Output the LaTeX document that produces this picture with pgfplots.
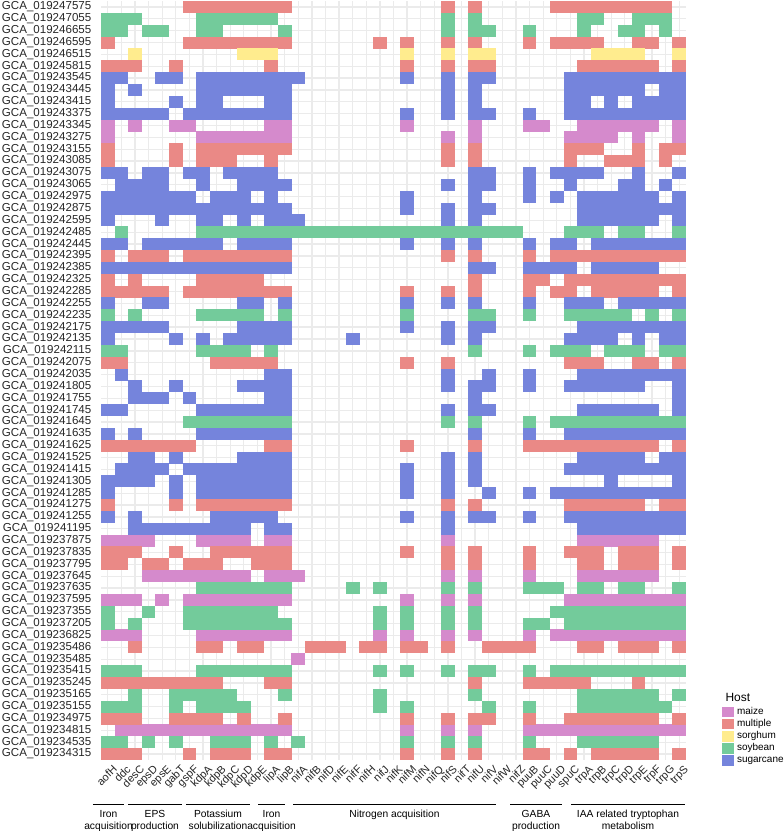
\documentclass[border=0pt]{standalone}
\usepackage{fontspec}
\setmainfont{Liberation Sans}
\usepackage{pgfplots}
\pgfplotsset{compat=1.18}
\definecolor{maize}{HTML}{D58ACC}
\definecolor{multiple}{HTML}{EA8986}
\definecolor{sorghum}{HTML}{FFEC8E}
\definecolor{soybean}{HTML}{73CB9B}
\definecolor{sugarcane}{HTML}{7584DC}
\definecolor{gridgray}{HTML}{EBEBEB}
\pgfdeclareplotmark{cell}{\pgfpathrectangle{\pgfpoint{-6.85bp}{-6bp}}{\pgfpoint{13.7bp}{12bp}}\pgfusepathqfill}
\newcommand{\g}[1]{GCA\_0192#1}
\begin{document}
\begin{tikzpicture}
\begin{axis}[
  scale only axis, width=585bp, height=759bp,
  xmin=0.5, xmax=43.5, ymin=0.5, ymax=64.5, y dir=reverse,
  xtick={1,...,43}, ytick={1,...,64},
  xticklabels={aofH,ddc,desC,epsD,epsE,gabT,gspF,kdpA,kdpB,kdpC,kdpD,kdpE,lipA,lipB,nifA,nifB,nifD,nifE,nifF,nifH,nifJ,nifK,nifM,nifN,nifQ,nifS,nifT,nifU,nifV,nifW,nifZ,puuB,puuC,puuD,spuC,trpA,trpB,trpC,trpD,trpE,trpF,trpG,trpS},
  yticklabels={\g{47575},\g{47055},\g{46655},\g{46595},\g{46515},\g{45815},\g{43545},\g{43445},\g{43415},\g{43375},\g{43345},\g{43275},\g{43155},\g{43085},\g{43075},\g{43065},\g{42975},\g{42875},\g{42595},\g{42485},\g{42445},\g{42395},\g{42385},\g{42325},\g{42285},\g{42255},\g{42235},\g{42175},\g{42135},\g{42115},\g{42075},\g{42035},\g{41805},\g{41755},\g{41745},\g{41645},\g{41635},\g{41625},\g{41525},\g{41415},\g{41305},\g{41285},\g{41275},\g{41255},\g{41195},\g{37875},\g{37835},\g{37795},\g{37645},\g{37635},\g{37595},\g{37355},\g{37205},\g{36825},\g{35486},\g{35485},\g{35415},\g{35245},\g{35165},\g{35155},\g{34975},\g{34815},\g{34535},\g{34315}},
  x tick label style={rotate=45, anchor=north east, inner sep=0pt, font=\fontsize{11}{11}\selectfont, text=black!85, yshift=-6bp},
  y tick label style={anchor=east, inner sep=0pt, font=\fontsize{11.6}{12}\selectfont, text=black!85, xshift=-9.5bp},
  major tick length=0pt, tick style={draw=none}, axis line style={draw=none},
  grid=major, grid style={color=gridgray, line width=1.3bp},
  legend style={at={(1.0615,0.070)}, anchor=north west, draw=none, fill=none, inner sep=0pt, row sep=2.4bp, column sep=4bp, font=\fontsize{10}{12}\selectfont, nodes={inner sep=0pt, text height=7.2bp, text depth=2.1bp}},
  legend image code/.code={\fill (0bp,-4.65bp) rectangle (10.5bp,4.65bp);},
  legend cell align=left,
]
\addplot[only marks, mark=cell, color=maize] coordinates {
(1,11)(3,11)(6,11)(7,11)(13,11)(14,11)(23,11)(28,11)(32,11)(33,11)(36,11)(37,11)(38,11)(39,11)(40,11)(41,11)(43,11)
(1,12)(8,12)(9,12)(10,12)(11,12)(12,12)(13,12)(14,12)(26,12)(28,12)(35,12)(36,12)(37,12)(38,12)(40,12)(43,12)
(1,46)(2,46)(3,46)(4,46)(8,46)(9,46)(10,46)(11,46)(13,46)(14,46)(26,46)(36,46)(37,46)(38,46)(39,46)(40,46)(41,46)
(4,49)(5,49)(6,49)(7,49)(8,49)(9,49)(10,49)(11,49)(13,49)(14,49)(15,49)(26,49)(28,49)(32,49)(36,49)(37,49)(38,49)(39,49)(40,49)(41,49)
(1,51)(2,51)(3,51)(5,51)(7,51)(8,51)(9,51)(10,51)(11,51)(12,51)(13,51)(14,51)(23,51)(26,51)(28,51)(35,51)(36,51)(37,51)(38,51)(39,51)(40,51)(41,51)(42,51)(43,51)
(1,54)(2,54)(3,54)(8,54)(9,54)(10,54)(11,54)(12,54)(13,54)(14,54)(21,54)(23,54)(26,54)(28,54)(32,54)(34,54)(35,54)(36,54)(37,54)(38,54)(39,54)(40,54)(41,54)(42,54)(43,54)
(15,56)
(2,62)(3,62)(4,62)(5,62)(6,62)(7,62)(8,62)(9,62)(10,62)(11,62)(12,62)(13,62)(14,62)(23,62)(26,62)(28,62)(32,62)(33,62)(34,62)(35,62)(36,62)(37,62)(38,62)(39,62)(40,62)(41,62)(42,62)(43,62)
};
\addlegendentry{maize}
\addplot[only marks, mark=cell, color=multiple] coordinates {
(7,1)(8,1)(9,1)(10,1)(11,1)(12,1)(13,1)(14,1)(26,1)(28,1)(34,1)(35,1)(36,1)(37,1)(38,1)(39,1)(40,1)(41,1)(42,1)
(1,4)(7,4)(8,4)(9,4)(10,4)(11,4)(12,4)(13,4)(14,4)(21,4)(23,4)(26,4)(28,4)(32,4)(34,4)(35,4)(36,4)(37,4)(40,4)(41,4)(43,4)
(1,6)(2,6)(3,6)(6,6)(13,6)(23,6)(26,6)(28,6)(29,6)(36,6)(37,6)(38,6)(39,6)(40,6)(41,6)(43,6)
(1,13)(6,13)(8,13)(9,13)(10,13)(11,13)(12,13)(13,13)(14,13)(26,13)(28,13)(35,13)(36,13)(37,13)(40,13)(42,13)(43,13)
(1,14)(6,14)(8,14)(9,14)(10,14)(13,14)(26,14)(28,14)(35,14)(38,14)(39,14)(40,14)(42,14)
(1,22)(3,22)(4,22)(5,22)(7,22)(8,22)(9,22)(10,22)(11,22)(12,22)(13,22)(14,22)(26,22)(28,22)(32,22)(34,22)(35,22)(36,22)(37,22)(38,22)(39,22)(40,22)(41,22)(42,22)(43,22)
(1,24)(3,24)(8,24)(9,24)(10,24)(11,24)(12,24)(28,24)(32,24)(33,24)(35,24)(36,24)(37,24)(38,24)(39,24)(40,24)(41,24)(42,24)(43,24)
(1,25)(2,25)(3,25)(4,25)(5,25)(7,25)(8,25)(9,25)(10,25)(11,25)(12,25)(13,25)(14,25)(23,25)(26,25)(28,25)(32,25)(34,25)(35,25)(37,25)(38,25)(39,25)(40,25)(41,25)(43,25)
(1,31)(2,31)(9,31)(10,31)(11,31)(12,31)(13,31)(23,31)(26,31)(35,31)(36,31)(37,31)(40,31)(41,31)(43,31)
(1,38)(2,38)(3,38)(4,38)(5,38)(6,38)(7,38)(13,38)(14,38)(23,38)(28,38)(32,38)(33,38)(34,38)(35,38)(36,38)(37,38)(38,38)(39,38)(40,38)(41,38)(43,38)
(1,43)(6,43)(8,43)(9,43)(10,43)(11,43)(12,43)(13,43)(14,43)(26,43)(28,43)(35,43)(36,43)(37,43)(38,43)(39,43)(40,43)(42,43)(43,43)
(1,47)(2,47)(3,47)(6,47)(9,47)(10,47)(11,47)(12,47)(13,47)(14,47)(23,47)(26,47)(28,47)(32,47)(35,47)(36,47)(37,47)(39,47)(40,47)(41,47)(43,47)
(1,48)(2,48)(4,48)(5,48)(7,48)(8,48)(9,48)(12,48)(13,48)(14,48)(26,48)(28,48)(32,48)(36,48)(37,48)(39,48)(40,48)(41,48)(43,48)
(3,55)(8,55)(9,55)(11,55)(12,55)(16,55)(17,55)(18,55)(20,55)(21,55)(23,55)(24,55)(26,55)(29,55)(30,55)(31,55)(32,55)(36,55)(37,55)(39,55)(40,55)(41,55)(43,55)
(1,58)(2,58)(3,58)(4,58)(5,58)(6,58)(7,58)(8,58)(9,58)(13,58)(14,58)(28,58)(32,58)(33,58)(34,58)(35,58)(36,58)(40,58)
(1,61)(2,61)(3,61)(6,61)(7,61)(8,61)(9,61)(11,61)(14,61)(23,61)(26,61)(28,61)(29,61)(32,61)(35,61)(36,61)(37,61)(38,61)(39,61)(40,61)(41,61)(43,61)
(1,64)(2,64)(3,64)(7,64)(9,64)(10,64)(11,64)(13,64)(14,64)(23,64)(26,64)(28,64)(32,64)(33,64)(35,64)(37,64)(38,64)(39,64)(40,64)(41,64)(43,64)
};
\addlegendentry{multiple}
\addplot[only marks, mark=cell, color=sorghum] coordinates {
(3,5)(11,5)(12,5)(13,5)(23,5)(26,5)(28,5)(29,5)(37,5)(38,5)(39,5)(40,5)(43,5)
};
\addlegendentry{sorghum}
\addplot[only marks, mark=cell, color=soybean] coordinates {
(1,2)(2,2)(3,2)(8,2)(9,2)(10,2)(11,2)(12,2)(13,2)(26,2)(28,2)(36,2)(37,2)(40,2)(41,2)(42,2)
(1,3)(2,3)(4,3)(5,3)(8,3)(9,3)(14,3)(26,3)(28,3)(29,3)(32,3)(36,3)(39,3)(40,3)(42,3)
(2,20)(8,20)(9,20)(10,20)(11,20)(12,20)(13,20)(14,20)(15,20)(16,20)(17,20)(18,20)(19,20)(20,20)(21,20)(22,20)(23,20)(24,20)(25,20)(26,20)(27,20)(28,20)(29,20)(30,20)(31,20)(35,20)(36,20)(37,20)(39,20)(40,20)(43,20)
(1,27)(3,27)(8,27)(9,27)(10,27)(11,27)(12,27)(14,27)(23,27)(28,27)(29,27)(32,27)(35,27)(36,27)(37,27)(38,27)(39,27)(41,27)(43,27)
(1,30)(2,30)(8,30)(9,30)(10,30)(11,30)(13,30)(28,30)(32,30)(34,30)(35,30)(36,30)(38,30)(39,30)(40,30)(42,30)(43,30)
(7,36)(8,36)(9,36)(10,36)(11,36)(12,36)(13,36)(14,36)(26,36)(28,36)(32,36)(34,36)(35,36)(36,36)(37,36)(38,36)(39,36)(40,36)(41,36)(42,36)(43,36)
(8,50)(9,50)(10,50)(11,50)(12,50)(13,50)(14,50)(19,50)(21,50)(26,50)(28,50)(32,50)(33,50)(34,50)(36,50)(37,50)(39,50)(40,50)(43,50)
(1,52)(4,52)(7,52)(8,52)(9,52)(10,52)(11,52)(12,52)(13,52)(21,52)(23,52)(26,52)(28,52)(34,52)(35,52)(36,52)(37,52)(38,52)(39,52)(40,52)(41,52)(42,52)(43,52)
(1,53)(3,53)(7,53)(8,53)(9,53)(10,53)(11,53)(12,53)(13,53)(14,53)(21,53)(23,53)(26,53)(28,53)(32,53)(33,53)(35,53)(36,53)(37,53)(38,53)(39,53)(40,53)(41,53)(42,53)(43,53)
(1,57)(2,57)(3,57)(8,57)(9,57)(10,57)(11,57)(12,57)(13,57)(14,57)(21,57)(23,57)(26,57)(28,57)(29,57)(32,57)(34,57)(35,57)(36,57)(37,57)(38,57)(39,57)(40,57)(41,57)(42,57)(43,57)
(3,59)(6,59)(7,59)(8,59)(9,59)(10,59)(14,59)(21,59)(28,59)(36,59)(37,59)(38,59)(39,59)(40,59)(41,59)(43,59)
(1,60)(2,60)(3,60)(6,60)(8,60)(9,60)(10,60)(11,60)(21,60)(23,60)(29,60)(32,60)(36,60)(37,60)(38,60)(39,60)(40,60)(41,60)(42,60)
(1,63)(2,63)(4,63)(6,63)(9,63)(10,63)(11,63)(13,63)(15,63)(23,63)(26,63)(28,63)(32,63)(36,63)(37,63)(38,63)(39,63)(40,63)(41,63)
};
\addlegendentry{soybean}
\addplot[only marks, mark=cell, color=sugarcane] coordinates {
(1,7)(2,7)(5,7)(6,7)(8,7)(9,7)(10,7)(11,7)(12,7)(13,7)(14,7)(15,7)(23,7)(26,7)(28,7)(29,7)(35,7)(36,7)(37,7)(38,7)(39,7)(40,7)(41,7)(42,7)(43,7)
(1,8)(3,8)(8,8)(9,8)(10,8)(11,8)(12,8)(13,8)(14,8)(26,8)(28,8)(35,8)(36,8)(37,8)(38,8)(39,8)(40,8)(42,8)(43,8)
(1,9)(6,9)(8,9)(9,9)(13,9)(14,9)(26,9)(28,9)(35,9)(36,9)(38,9)(40,9)(41,9)(42,9)(43,9)
(1,10)(2,10)(3,10)(4,10)(5,10)(7,10)(8,10)(9,10)(10,10)(11,10)(12,10)(13,10)(14,10)(23,10)(26,10)(28,10)(29,10)(32,10)(35,10)(36,10)(37,10)(38,10)(39,10)(40,10)(41,10)(42,10)(43,10)
(1,15)(2,15)(4,15)(5,15)(7,15)(8,15)(10,15)(11,15)(12,15)(13,15)(28,15)(29,15)(32,15)(34,15)(35,15)(36,15)(37,15)(40,15)(43,15)
(2,16)(3,16)(4,16)(5,16)(8,16)(11,16)(12,16)(13,16)(14,16)(26,16)(28,16)(29,16)(32,16)(35,16)(39,16)(40,16)(42,16)
(1,17)(2,17)(3,17)(4,17)(5,17)(6,17)(7,17)(9,17)(10,17)(11,17)(13,17)(23,17)(28,17)(32,17)(34,17)(36,17)(37,17)(38,17)(39,17)(40,17)(41,17)(43,17)
(1,18)(2,18)(3,18)(4,18)(5,18)(6,18)(7,18)(8,18)(9,18)(10,18)(11,18)(12,18)(13,18)(14,18)(23,18)(26,18)(28,18)(29,18)(36,18)(37,18)(38,18)(39,18)(40,18)(41,18)(42,18)(43,18)
(1,19)(5,19)(8,19)(9,19)(11,19)(13,19)(14,19)(15,19)(26,19)(28,19)(36,19)(37,19)(38,19)(39,19)(40,19)(41,19)(43,19)
(1,21)(2,21)(4,21)(5,21)(6,21)(7,21)(8,21)(9,21)(11,21)(12,21)(13,21)(14,21)(23,21)(26,21)(28,21)(32,21)(34,21)(35,21)(37,21)(38,21)(39,21)(40,21)(41,21)(42,21)(43,21)
(1,23)(2,23)(3,23)(4,23)(5,23)(6,23)(7,23)(8,23)(9,23)(10,23)(11,23)(12,23)(13,23)(14,23)(28,23)(29,23)(32,23)(33,23)(34,23)(35,23)(37,23)(38,23)(39,23)(40,23)(41,23)
(1,26)(4,26)(5,26)(11,26)(12,26)(14,26)(23,26)(26,26)(28,26)(32,26)(35,26)(36,26)(37,26)(39,26)(40,26)(41,26)(42,26)(43,26)
(1,28)(2,28)(3,28)(4,28)(5,28)(11,28)(12,28)(13,28)(14,28)(23,28)(26,28)(28,28)(29,28)(36,28)(37,28)(38,28)(39,28)(40,28)(41,28)(42,28)(43,28)
(1,29)(6,29)(8,29)(10,29)(11,29)(12,29)(13,29)(14,29)(19,29)(26,29)(28,29)(35,29)(36,29)(37,29)(38,29)(40,29)(42,29)(43,29)
(2,32)(13,32)(14,32)(26,32)(29,32)(32,32)(36,32)(37,32)(38,32)(39,32)(40,32)(41,32)(42,32)(43,32)
(3,33)(6,33)(11,33)(12,33)(13,33)(14,33)(26,33)(28,33)(29,33)(32,33)(35,33)(36,33)(37,33)(38,33)(39,33)(40,33)(43,33)
(3,34)(4,34)(5,34)(7,34)(13,34)(14,34)(28,34)(43,34)
(1,35)(2,35)(8,35)(9,35)(10,35)(11,35)(12,35)(13,35)(14,35)(26,35)(28,35)(29,35)(36,35)(37,35)(38,35)(39,35)(40,35)(41,35)(43,35)
(1,37)(3,37)(8,37)(9,37)(10,37)(11,37)(12,37)(13,37)(14,37)(28,37)(32,37)(35,37)(36,37)(37,37)(38,37)(39,37)(40,37)(41,37)(42,37)(43,37)
(3,39)(4,39)(6,39)(11,39)(12,39)(13,39)(14,39)(26,39)(28,39)(36,39)(37,39)(38,39)(39,39)(40,39)(42,39)(43,39)
(2,40)(3,40)(4,40)(5,40)(7,40)(8,40)(9,40)(10,40)(11,40)(12,40)(13,40)(14,40)(23,40)(26,40)(28,40)(35,40)(36,40)(37,40)(38,40)(39,40)(40,40)(41,40)(42,40)(43,40)
(1,41)(2,41)(3,41)(4,41)(6,41)(8,41)(9,41)(10,41)(11,41)(12,41)(13,41)(14,41)(23,41)(26,41)(28,41)(38,41)(43,41)
(1,42)(6,42)(8,42)(9,42)(10,42)(11,42)(12,42)(13,42)(14,42)(23,42)(26,42)(29,42)(32,42)(34,42)(35,42)(36,42)(37,42)(38,42)(39,42)(40,42)(41,42)(42,42)(43,42)
(1,44)(3,44)(9,44)(10,44)(11,44)(12,44)(13,44)(23,44)(26,44)(28,44)(29,44)(32,44)(35,44)(36,44)(37,44)(38,44)(39,44)(40,44)(41,44)(42,44)(43,44)
(3,45)(4,45)(5,45)(6,45)(7,45)(8,45)(9,45)(10,45)(11,45)(13,45)(14,45)(26,45)(36,45)(37,45)(38,45)(39,45)(40,45)(41,45)(42,45)(43,45)
};
\addlegendentry{sugarcane}
\coordinate (SW) at (axis description cs:0,0);
\coordinate (NE) at (axis description cs:1,1);
\end{axis}
\node[anchor=base west, font=\fontsize{12}{12}\selectfont] at ([shift={(621bp,58bp)}]SW) {Host};
\begin{scope}[line width=0.9bp]
\draw ([shift={(-8bp,-44bp)}]SW) -- ([shift={(23bp,-44bp)}]SW);
\draw ([shift={(27bp,-44bp)}]SW) -- ([shift={(81bp,-44bp)}]SW);
\draw ([shift={(85bp,-44bp)}]SW) -- ([shift={(149bp,-44bp)}]SW);
\draw ([shift={(157bp,-44bp)}]SW) -- ([shift={(184bp,-44bp)}]SW);
\draw ([shift={(192bp,-44bp)}]SW) -- ([shift={(395bp,-44bp)}]SW);
\draw ([shift={(409bp,-44bp)}]SW) -- ([shift={(461bp,-44bp)}]SW);
\draw ([shift={(470bp,-44bp)}]SW) -- ([shift={(584bp,-44bp)}]SW);
\end{scope}
\begin{scope}[every node/.style={anchor=north, align=center, inner sep=0pt, font=\fontsize{10.3}{12.3}\selectfont}]
\node at ([shift={(7.5bp,-50bp)}]SW) {Iron\\acquisition};
\node at ([shift={(54bp,-50bp)}]SW) {EPS\\production};
\node at ([shift={(117bp,-50bp)}]SW) {Potassium\\solubilization};
\node at ([shift={(170.5bp,-50bp)}]SW) {Iron\\acquisition};
\node at ([shift={(293.5bp,-50bp)}]SW) {Nitrogen acquisition};
\node at ([shift={(435bp,-50bp)}]SW) {GABA\\production};
\node at ([shift={(527bp,-50bp)}]SW) {IAA related tryptophan\\metabolism};
\end{scope}
\pgfresetboundingbox
\useasboundingbox ([shift={(-101bp,-71bp)}]SW) rectangle ([shift={(98bp,1bp)}]NE);
\end{tikzpicture}
\end{document}
